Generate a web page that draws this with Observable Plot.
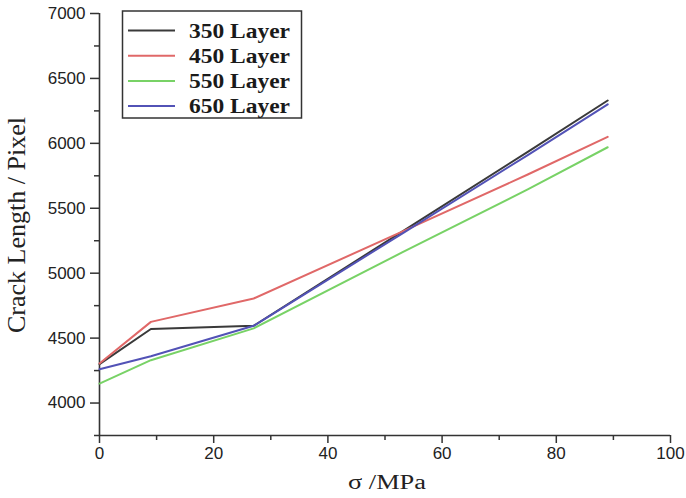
<!DOCTYPE html>
<html>
<head>
<meta charset="utf-8">
<script src="https://cdn.jsdelivr.net/npm/d3@7"></script>
<script src="https://cdn.jsdelivr.net/npm/@observablehq/plot@0.6"></script>
<style>
  html, body { margin: 0; padding: 0; background: #fff; }
  #chart { width: 686px; height: 498px; }
</style>
</head>
<body>
<div id="chart"></div>
<script>
// ---- data ----
const sigma = [0, 9, 27, 53, 75, 89];
const layers = ["350 Layer", "450 Layer", "550 Layer", "650 Layer"];
const layer350 = [4300, 4570, 4595, 5320, 5935, 6330];
const layer450 = [4305, 4625, 4805, 5320, 5760, 6050];
const layer550 = [4150, 4330, 4575, 5160, 5645, 5970];
const layer650 = [4260, 4360, 4595, 5305, 5910, 6300];
const colors = ["#3a3a3a", "#e06868", "#78d266", "#5252b6"];
const xMajorTicks = [0, 20, 40, 60, 80, 100];
const xMinorTicks = [10, 30, 50, 70, 90];
const yMajorTicks = [4000, 4500, 5000, 5500, 6000, 6500, 7000];
const yMinorTicks = [3750, 4250, 4750, 5250, 5750, 6250, 6750];
const xTitle = "σ /MPa";
const yTitle = "Crack Length / Pixel";

const seriesValues = [layer350, layer450, layer550, layer650];
const rows = [];
layers.forEach((name, i) => {
  sigma.forEach((s, j) => rows.push({layer: name, x: s, y: seriesValues[i][j]}));
});

const axisColor = "#333";
const svg = Plot.plot({
  width: 686,
  height: 498,
  marginLeft: 99,
  marginRight: 16,
  marginTop: 13,
  marginBottom: 63,
  style: {background: "#fff", color: "#222", fontFamily: "'Liberation Sans', Arial, sans-serif"},
  x: {domain: [0, 100]},
  y: {domain: [3750, 7000]},
  color: {domain: layers, range: colors},
  marks: [
    Plot.axisX({ticks: xMajorTicks, tickSize: 8, tickPadding: 3, fontSize: 17, tickFormat: d => String(d), label: null, stroke: axisColor, strokeWidth: 1.5}),
    Plot.axisX({ticks: xMinorTicks, tickSize: 5, tickFormat: () => "", label: null, stroke: axisColor, strokeWidth: 1.5}),
    Plot.axisY({ticks: yMajorTicks, tickSize: 9, tickPadding: 5, fontSize: 17, tickFormat: d => String(d), label: null, stroke: axisColor, strokeWidth: 1.5}),
    Plot.axisY({ticks: yMinorTicks, tickSize: 5, tickFormat: () => "", label: null, stroke: axisColor, strokeWidth: 1.5}),
    Plot.ruleX([0], {stroke: axisColor, strokeWidth: 1.6}),
    Plot.ruleY([3750], {stroke: axisColor, strokeWidth: 1.6}),
    Plot.line(rows, {x: "x", y: "y", z: "layer", stroke: "layer", strokeWidth: 2})
  ]
});
document.getElementById("chart").appendChild(svg);

// ---- titles and legend ----
const root = d3.select(svg);
const serif = "'Liberation Serif', 'Times New Roman', serif";

root.append("text")
  .attr("transform", "translate(16,225) rotate(-90)")
  .attr("text-anchor", "middle")
  .attr("dominant-baseline", "central")
  .attr("font-family", serif)
  .attr("font-size", 25)
  .attr("fill", "#222")
  .attr("textLength", 216)
  .attr("lengthAdjust", "spacingAndGlyphs")
  .text(yTitle);

root.append("text")
  .attr("x", 387)
  .attr("y", 489)
  .attr("text-anchor", "middle")
  .attr("font-family", serif)
  .attr("font-size", 20)
  .attr("fill", "#222")
  .attr("textLength", 78)
  .attr("lengthAdjust", "spacingAndGlyphs")
  .text(xTitle);

const legend = root.append("g");
legend.append("rect")
  .attr("x", 122.5).attr("y", 11).attr("width", 179).attr("height", 107)
  .attr("fill", "#fff").attr("stroke", axisColor).attr("stroke-width", 1.5);
layers.forEach((name, i) => {
  const cy = 30.5 + i * 25.2;
  legend.append("line")
    .attr("x1", 128).attr("x2", 175).attr("y1", cy).attr("y2", cy)
    .attr("stroke", colors[i]).attr("stroke-width", 2);
  legend.append("text")
    .attr("x", 189).attr("y", cy)
    .attr("text-anchor", "start")
    .attr("dominant-baseline", "central")
    .attr("font-family", serif)
    .attr("font-weight", "bold")
    .attr("font-size", 20)
    .attr("fill", "#1a1a1a")
    .attr("textLength", 101)
    .attr("lengthAdjust", "spacingAndGlyphs")
    .text(name);
});
</script>
</body>
</html>
